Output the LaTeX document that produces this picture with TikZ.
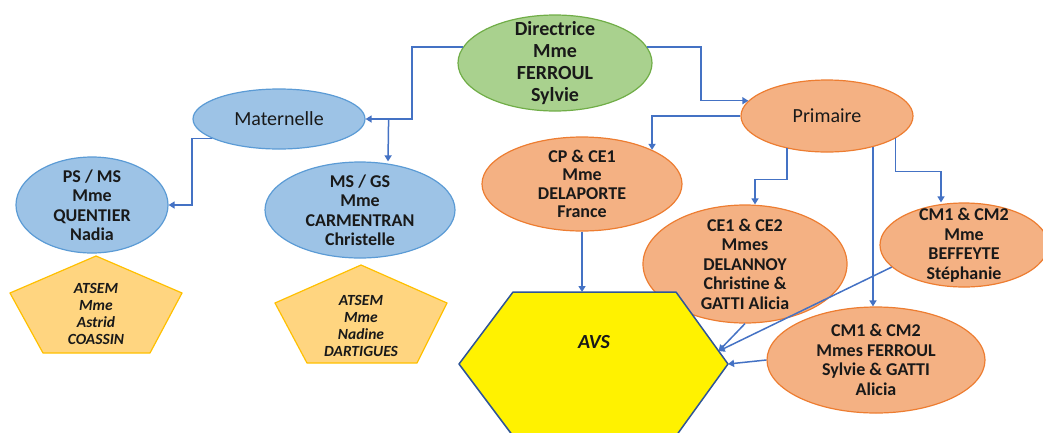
\documentclass[tikz,border=0pt]{standalone}
\usepackage{fontspec}
\setmainfont{Carlito}
\usetikzlibrary{arrows.meta, positioning, calc, shapes.geometric}

\definecolor{vertfond}{HTML}{A9D18E}
\definecolor{vertbord}{HTML}{70AD47}
\definecolor{bleufond}{HTML}{9DC3E6}
\definecolor{bleubord}{HTML}{5B9BD5}
\definecolor{orangefond}{HTML}{F4B183}
\definecolor{orangebord}{HTML}{ED7D31}
\definecolor{atsemfond}{HTML}{FFD580}
\definecolor{atsembord}{HTML}{FFC000}
\definecolor{hexbord}{HTML}{2F5597}
\definecolor{flechebleu}{HTML}{4472C4}

\begin{document}
\begin{tikzpicture}[
  x=1pt, y=-1pt,
  ovale/.style={ellipse, draw, line width=1.2pt, inner sep=-12pt, align=center, text=black!90,
    font=\bfseries\fontsize{18}{19.5}\selectfont},
  vert/.style={ovale, fill=vertfond, draw=vertbord},
  bleu/.style={ovale, fill=bleufond, draw=bleubord},
  classe/.style={ovale, fill=orangefond, draw=orangebord},
  atsem/.style={fill=atsemfond, draw=atsembord, line width=1.2pt, line join=round},
  atsemtexte/.style={align=center, text=black!90, font=\bfseries\itshape\fontsize{15.5}{17}\selectfont},
  hexa/.style={fill=yellow, draw=hexbord, line width=1.5pt, line join=round},
  fleche/.style={-{Triangle[width=7pt,length=6pt]}, line width=1.5pt, draw=flechebleu},
]
\useasboundingbox (0,0) rectangle (1043,432);

% Direction
\node[vert, minimum width=194pt, minimum height=96pt,
  font=\bfseries\fontsize{20}{22}\selectfont] (directrice) at (555,63) {Directrice\\Mme\\FERROUL\\Sylvie};

% Maternelle
\node[bleu, minimum width=172pt, minimum height=60pt,
  font=\fontsize{20}{22}\selectfont] (maternelle) at (279,119) {Maternelle};
\node[bleu, minimum width=152pt, minimum height=96pt] (psms) at (92,205) {PS / MS\\Mme\\QUENTIER\\Nadia};
\node[bleu, minimum width=190pt, minimum height=96pt] (msgs) at (360,210) {MS / GS\\Mme\\CARMENTRAN\\Christelle};

% ATSEM
\draw[atsem, shift={(96,314)}] (0,-58) -- (86,-21) -- (54,39) -- (-53,39) -- (-86,-21) -- cycle;
\node[atsemtexte] (atsemA) at (96,314) {ATSEM\\Mme\\Astrid\\COASSIN};
\draw[atsem, shift={(361,326)}] (0,-61) -- (86,-23) -- (56,37) -- (-54,37) -- (-86,-23) -- cycle;
\node[atsemtexte] (atsemB) at (361,326) {ATSEM\\Mme\\Nadine\\DARTIGUES};

% Primaire
\node[classe, minimum width=172pt, minimum height=72pt,
  font=\fontsize{20}{22}\selectfont] (primaire) at (827,116) {Primaire};
\node[classe, minimum width=200pt, minimum height=94pt,
  font=\bfseries\fontsize{18}{18.5}\selectfont] (cpce) at (582,184) {CP \& CE1\\Mme\\DELAPORTE\\France};
\node[classe, minimum width=204pt, minimum height=118pt] (ceun) at (745,264) {CE1 \& CE2\\Mmes\\DELANNOY\\Christine \&\\GATTI Alicia};
\node[classe, minimum width=168pt, minimum height=84pt] (cmA) at (964,245) {CM1 \& CM2\\Mme\\BEFFEYTE\\Stéphanie};
\node[classe, minimum width=218pt, minimum height=106pt] (cmB) at (876,360) {CM1 \& CM2\\Mmes FERROUL\\Sylvie \& GATTI\\Alicia};

% AVS
\draw[hexa] (513,292) coordinate (hexNO) -- (676,292) coordinate (hexNE) -- (728,364) coordinate (hexE)
  -- (676,436) -- (513,436) -- (459,364) -- cycle;
\node[font=\bfseries\itshape\fontsize{20}{22}\selectfont, text=black!90] (avs) at (594,342) {AVS};
\coordinate (avsA) at ($(hexNE)!0.82!(hexE)$);

% Arrows from direction
\draw[fleche] (directrice.170) -- ++(-51,0) |- (maternelle.east);
\draw[fleche] (directrice.10) -- ++(54,0) |- (primaire.169);

% Arrows maternelle
\draw[fleche] ([xshift=23pt]maternelle.east) -- ([xshift=28pt]msgs.north);
\draw[fleche] (maternelle.196) -- ++(-20,0) |- (psms.east);

% Arrows primaire
\draw[fleche] (primaire.west) -| (cpce.26);
\draw[fleche] (primaire.-141) -- ++(0,31) -| ([xshift=10pt]ceun.north);
\draw[fleche] (primaire.-18) -- ++(0,33) -| ([xshift=-23pt]cmA.north);
\draw[fleche] (primaire.-34) -- (primaire.-34 |- cmB.north);

% Arrows to AVS
\draw[fleche] (cpce.south) -- (cpce.south |- hexNO);
\draw[fleche] (ceun.south) -- (avsA);
\draw[fleche] (cmA.197) -- (avsA);
\draw[fleche] (cmB.west) -- (hexE);

\end{tikzpicture}
\end{document}
